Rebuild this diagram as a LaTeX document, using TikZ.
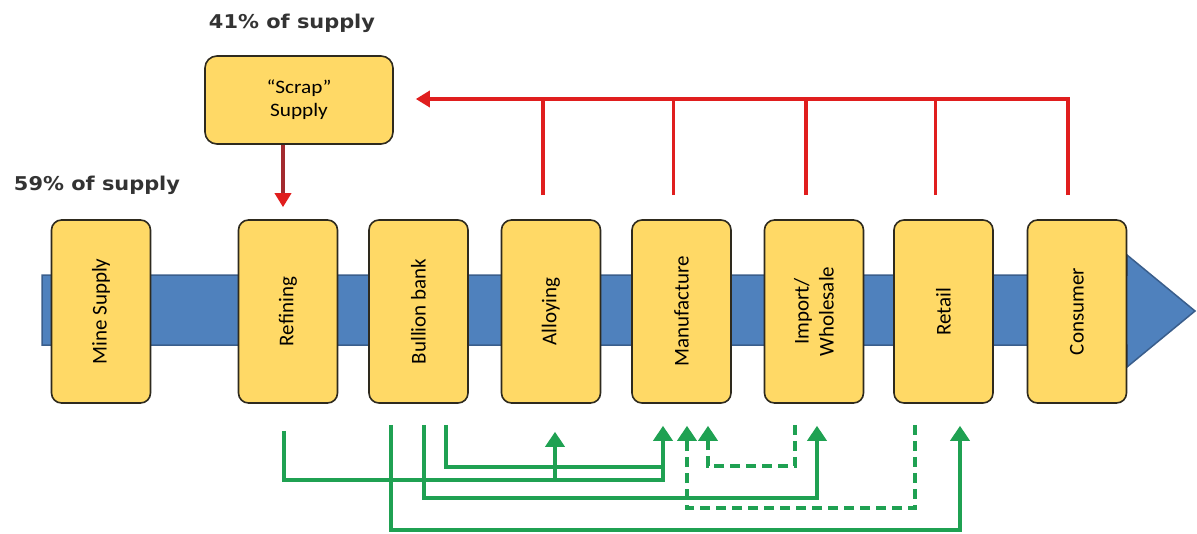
\documentclass[tikz,border=0pt]{standalone}
\usepackage{fontspec}
\setmainfont{Carlito}
\newfontfamily\labfont{DejaVu Sans}
\usetikzlibrary{arrows.meta,calc}
\definecolor{boxfill}{HTML}{FFD966}
\definecolor{boxdraw}{HTML}{2E2A1E}
\definecolor{bandfill}{HTML}{4F81BD}
\definecolor{banddraw}{HTML}{3A5E8C}
\definecolor{gcol}{HTML}{1FA152}
\definecolor{rcol}{HTML}{E01E1E}
\definecolor{rdark}{HTML}{A32A2E}
\definecolor{labcol}{HTML}{333333}
\tikzset{
  stagebox/.style={draw=boxdraw, fill=boxfill, line width=1.6pt, rounded corners=10pt,
    minimum width=99pt, minimum height=183pt, inner sep=0pt},
  stagetext/.style={rotate=90, font=\fontsize{21}{25}\selectfont, align=center, text=black},
  gline/.style={draw=gcol, line width=3.6pt},
  gtip/.style={-{Triangle[length=15pt,width=19pt]}},
  gdash/.style={dash pattern=on 10pt off 6pt},
  rline/.style={draw=rcol, line width=3.4pt},
  rtip/.style={-{Triangle[length=14pt,width=16pt]}},
  toplab/.style={font=\labfont\bfseries\fontsize{19}{22}\selectfont, text=labcol, inner sep=0pt}
}
\begin{document}
\begin{tikzpicture}[x=1pt,y=-1pt]
\useasboundingbox (0,0) rectangle (1197,533);
% blue band arrow
\filldraw[fill=bandfill, draw=banddraw, line width=1.5pt]
  (42,275) -- (1127,275) -- (1127,255) -- (1195,311) -- (1127,367) -- (1127,345) -- (42,345) -- cycle;
% stages
\node[stagebox] (mine) at (101,311.5) {};
\node[stagebox] (ref)  at (288,311.5) {};
\node[stagebox] (bul)  at (418.5,311.5) {};
\node[stagebox] (all)  at (551,311.5) {};
\node[stagebox] (man)  at (681.5,311.5) {};
\node[stagebox] (imp)  at (814,311.5) {};
\node[stagebox] (ret)  at (943.5,311.5) {};
\node[stagebox] (con)  at (1077,311.5) {};
\node[stagetext] (tmine) at (mine) {Mine Supply};
\node[stagetext] (tref)  at (ref) {Refining};
\node[stagetext] (tbul)  at (bul) {Bullion bank};
\node[stagetext] (tall)  at (all) {Alloying};
\node[stagetext] (tman)  at (man) {Manufacture};
\node[stagetext] (timp)  at (imp) {Import/\\Wholesale};
\node[stagetext] (tret)  at (ret) {Retail};
\node[stagetext] (tcon)  at (con) {Consumer};
% scrap box
\node[draw=boxdraw, fill=boxfill, line width=1.6pt, rounded corners=12pt,
  minimum width=188pt, minimum height=88pt, align=center,
  font=\fontsize{19}{23}\selectfont] (scrap) at (299,100)
  {\scalebox{1.12}[1]{“Scrap”}\\\scalebox{1.12}[1]{Supply}};
% labels
\node[toplab] (l41) at (292,23) {\scalebox{1.1}[1]{41\% of supply}};
\node[toplab] (l59) at (97,185) {\scalebox{1.1}[1]{59\% of supply}};
% scrap to refining
\draw[draw=rdark, line width=3.4pt, -{Triangle[length=14pt,width=16pt,color=rcol]}]
  ([xshift=-16pt]scrap.south) -- ([xshift=-5pt,yshift=12pt]ref.north);
% red feedback
\coordinate (rend) at ([xshift=22pt,yshift=1pt]scrap.east);
\draw[rline, rtip] ([xshift=-9pt,yshift=24pt]con.north) |- (rend);
\foreach \b in {all,man,imp,ret}{
  \draw[rline] ([xshift=-8pt,yshift=24pt]\b.north) -- ([xshift=-8pt]\b.north |- rend);
}
% green levels
\coordinate (h1) at (0,480);
\coordinate (h2) at (0,467);
\coordinate (h3) at (0,498);
\coordinate (h4) at (0,530);
\coordinate (h5) at (0,466);
\coordinate (h6) at (0,508);
% sources
\coordinate (s1) at ([xshift=-4pt,yshift=-27pt]ref.south);
\coordinate (s4) at ([xshift=-27.5pt,yshift=-21pt]bul.south);
\coordinate (s3) at ([xshift=5.5pt,yshift=-21pt]bul.south);
\coordinate (s2) at ([xshift=27.5pt,yshift=-21pt]bul.south);
\coordinate (d1) at ([xshift=-19pt,yshift=-21pt]imp.south);
\coordinate (d2) at ([xshift=-28.5pt,yshift=-21pt]ret.south);
% targets
\coordinate (aall) at ([xshift=4pt,yshift=-28pt]all.south);
\coordinate (am1) at ([xshift=-18.5pt,yshift=-22pt]man.south);
\coordinate (am2) at ([xshift=5.5pt,yshift=-22pt]man.south);
\coordinate (am3) at ([xshift=26.5pt,yshift=-22pt]man.south);
\coordinate (aimp) at ([xshift=3pt,yshift=-22pt]imp.south);
\coordinate (aret) at ([xshift=16.5pt,yshift=-22pt]ret.south);
% green connectors
\draw[gline, gtip] (s1) -- (s1 |- h1) -| (am1);
\draw[gline, gtip] (aall |- h1) -- (aall);
\draw[gline] (s2) |- (am1 |- h2);
\draw[gline, gtip] (s3) -- (s3 |- h3) -| (aimp);
\draw[gline, gtip] (s4) -- (s4 |- h4) -| (aret);
\draw[gline, gdash, gtip] (d1) -- (d1 |- h5) -| (am3);
\draw[gline, gdash, gtip] (d2) -- (d2 |- h6) -| (am2);
\end{tikzpicture}
\end{document}
